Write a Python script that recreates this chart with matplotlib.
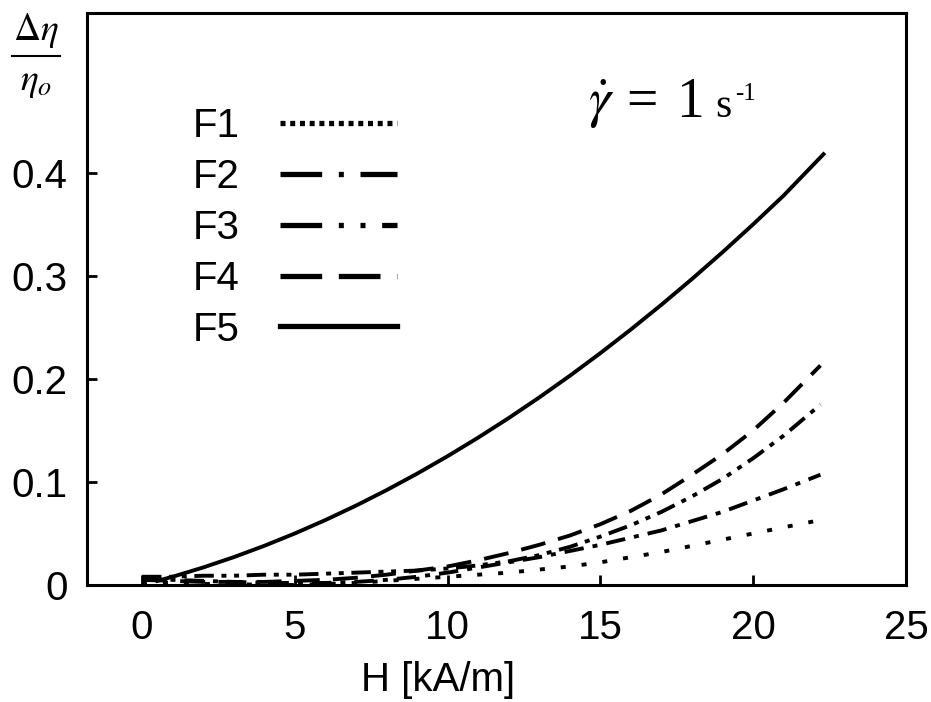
"""
Relative viscosity change vs magnetic field, shear rate 1 1/s
"""

import matplotlib
matplotlib.use("Agg")
import matplotlib.pyplot as plt
from matplotlib.lines import Line2D

plt.rcParams["font.family"] = ["Liberation Sans", "DejaVu Sans"]
plt.rcParams["mathtext.fontset"] = "stix"
plt.rcParams["lines.scale_dashes"] = False

##############################################################################
# Values
H_lo = [0, 1, 2, 3, 4, 5, 6, 7, 8, 9, 10, 11, 12, 13, 14, 15, 16, 17, 18, 19, 20, 21, 22.2]
F1 = [0.003, 0.002, 0.001, 0.001, 0.000, 0.000, 0.001, 0.002, 0.004, 0.006, 0.008, 0.010,
      0.012, 0.015, 0.018, 0.022, 0.027, 0.032, 0.038, 0.044, 0.050, 0.056, 0.063]
F2 = [0.006, 0.005, 0.004, 0.003, 0.002, 0.002, 0.002, 0.003, 0.005, 0.008, 0.012, 0.017,
      0.022, 0.027, 0.033, 0.039, 0.046, 0.053, 0.062, 0.071, 0.082, 0.093, 0.107]
F3 = [0.008, 0.008, 0.009, 0.009, 0.010, 0.010, 0.011, 0.012, 0.013, 0.014, 0.016, 0.019,
      0.023, 0.029, 0.037, 0.047, 0.058, 0.071, 0.086, 0.103, 0.123, 0.145, 0.175]
F4 = [0.005, 0.004, 0.003, 0.003, 0.003, 0.004, 0.005, 0.007, 0.010, 0.014, 0.018, 0.024,
      0.031, 0.039, 0.048, 0.059, 0.072, 0.088, 0.107, 0.127, 0.150, 0.177, 0.213]

H_f5 = [0.5, 1, 2, 3, 4, 5, 6, 7, 8, 9, 10, 11, 12, 13, 14, 15, 16, 17, 18, 19, 20, 21, 22.3]
F5 = [0.004, 0.008, 0.017, 0.027, 0.038, 0.050, 0.063, 0.077, 0.092, 0.108, 0.125, 0.143,
      0.162, 0.182, 0.203, 0.225, 0.248, 0.272, 0.297, 0.323, 0.350, 0.378, 0.418]

labels = ["F1", "F2", "F3", "F4", "F5"]
xticks = [0, 5, 10, 15, 20, 25]
yticks = [0, 0.1, 0.2, 0.3, 0.4]
ytick_labels = ["0", "0.1", "0.2", "0.3", "0.4"]

# dash patterns in points: on the curves and (larger) in the legend
plot_dashes = [(3.6, 11.5), (14, 6.5, 3.6, 6.5), (14, 5.5, 3.6, 5.5, 3.6, 5.5), (18, 9.5), None]
key_dashes = [(3.6, 3.4), (30, 12, 3.6, 12), (30, 12, 3.6, 12, 3.6, 12), (30, 12), None]

##############################################################################
W, Hpx = 931, 702
fig = plt.figure(figsize=(W / 100, Hpx / 100), dpi=100)
ax = fig.add_axes([87 / W, 1 - 585 / Hpx, (906 - 87) / W, (585 - 13) / Hpx])

series = [(H_lo, F1), (H_lo, F2), (H_lo, F3), (H_lo, F4), (H_f5, F5)]
for (x, y), d in zip(series, plot_dashes):
    line, = ax.plot(x, y, color="black", lw=2.8)
    if d is not None:
        line.set_dashes(d)

ax.set_xlim(-1.8, 25)
ax.set_ylim(0, 0.555)
ax.set_xticks(xticks)
ax.set_yticks(yticks)
ax.set_yticklabels(ytick_labels)
ax.tick_params(direction="in", length=7, width=2, labelsize=29)
ax.tick_params(axis="x", pad=17)
ax.tick_params(axis="y", pad=14)
for s in ax.spines.values():
    s.set_linewidth(2.2)

ax.set_xlabel("H [kA/m]", fontsize=29)
ax.xaxis.set_label_coords((438 - 87) / (906 - 87), -0.133)

# legend: label first, then the line sample
handles = []
for d in key_dashes:
    h = Line2D([], [], color="black", lw=3.8)
    if d is not None:
        h.set_dashes(d)
    handles.append(h)
ax.legend(handles, labels, markerfirst=False, frameon=False, fontsize=29,
          handlelength=2.9, handletextpad=1.0, labelspacing=0.32,
          borderpad=0, borderaxespad=0, loc="upper left",
          bbox_to_anchor=(193 / W, 1 - 107 / Hpx), bbox_transform=fig.transFigure)

# y label: a hand-set fraction in the corner
fig.text(36 / W, 1 - 40 / Hpx, r"$\Delta\eta$", fontsize=27, ha="center", va="baseline")
fig.add_artist(Line2D([12 / W, 60 / W], [1 - 56 / Hpx, 1 - 56 / Hpx],
                      color="black", lw=1.5, transform=fig.transFigure))
fig.text(36 / W, 1 - 90 / Hpx, r"$\eta_o$", fontsize=27, ha="center", va="baseline")

# shear rate annotation
fig.text(588 / W, 1 - 117 / Hpx, r"$\dot{\gamma}$", fontsize=40,
         ha="left", va="baseline")
fig.text(626 / W, 1 - 117 / Hpx, "=", fontsize=40, family="Liberation Serif",
         ha="left", va="baseline")
fig.text(676 / W, 1 - 117 / Hpx, "1", fontsize=40, family="Liberation Serif",
         ha="left", va="baseline")
fig.text(715 / W, 1 - 117 / Hpx, "s", fontsize=30, family="Liberation Serif",
         ha="left", va="baseline")
fig.text(735 / W, 1 - 100 / Hpx, "-1", fontsize=18, family="Liberation Serif",
         ha="left", va="baseline")

fig.savefig("out.png", dpi=100)
